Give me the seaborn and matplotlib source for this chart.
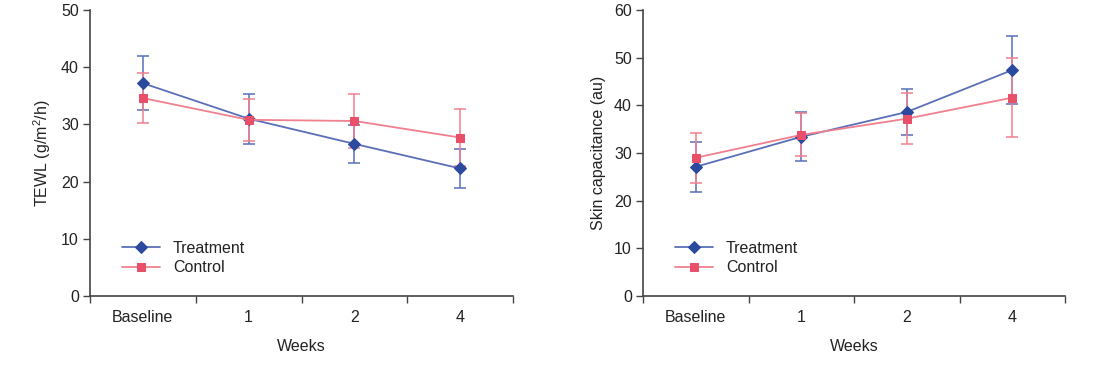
import numpy as np
import pandas as pd
import matplotlib
matplotlib.use("Agg")
import matplotlib.pyplot as plt
import seaborn as sns

# ---- data ----
weeks = ["Baseline", "1", "2", "4"]
groups = ["Treatment", "Control"]

tewl_treat = [37.2, 31.0, 26.6, 22.3]
tewl_treat_sd = [4.7, 4.4, 3.3, 3.4]
tewl_ctrl = [34.6, 30.8, 30.6, 27.7]
tewl_ctrl_sd = [4.3, 3.7, 4.7, 5.0]

cap_treat = [27.1, 33.4, 38.6, 47.4]
cap_treat_sd = [5.2, 5.1, 4.9, 7.1]
cap_ctrl = [29.0, 33.8, 37.2, 41.6]
cap_ctrl_sd = [5.2, 4.5, 5.3, 8.3]

marker_colors = {"Treatment": "#2b4a9e", "Control": "#e8506a"}
line_colors = {"Treatment": "#5a6fb8", "Control": "#f0808f"}
markers = {"Treatment": "D", "Control": "s"}
msize = {"Treatment": 6.5, "Control": 6}


def draw_panel(ax, treat, treat_sd, ctrl, ctrl_sd, ymax, ylabel):
    df = pd.DataFrame({
        "Week": weeks * 2,
        "Value": treat + ctrl,
        "Group": ["Treatment"] * len(weeks) + ["Control"] * len(weeks),
    })
    sds = {"Treatment": treat_sd, "Control": ctrl_sd}
    # error bars first so the markers sit on top
    for g in groups:
        sub = df[df["Group"] == g]
        ax.errorbar(np.arange(len(weeks)), sub["Value"], yerr=sds[g],
                    fmt="none", ecolor=line_colors[g], elinewidth=1.3,
                    capsize=4.5, capthick=1.3, alpha=0.85, zorder=2)
    for g in groups:
        sub = df[df["Group"] == g]
        sns.lineplot(data=sub, x="Week", y="Value", ax=ax, sort=False,
                     color=line_colors[g], linewidth=1.3, zorder=3,
                     label=g, marker=markers[g], markersize=msize[g],
                     markerfacecolor=marker_colors[g],
                     markeredgecolor=marker_colors[g])

    ax.set_xlim(-0.5, len(weeks) - 0.5)
    ax.set_ylim(0, ymax)
    ax.set_yticks(np.arange(0, ymax + 1, 10))
    ax.set_xticks(np.arange(len(weeks)))
    ax.set_xticklabels(weeks)
    ax.set_xticks(np.arange(-0.5, len(weeks)), minor=True)
    ax.tick_params(axis="x", which="major", bottom=False, length=0, pad=10,
                   labelsize=11.5, labelcolor="#222222")
    ax.tick_params(axis="x", which="minor", bottom=True, length=5, width=1,
                   color="#444444", direction="out")
    ax.tick_params(axis="y", left=True, length=5, width=1, color="#444444",
                   direction="out", labelsize=11.5, pad=3, labelcolor="#222222")
    for s in ["top", "right"]:
        ax.spines[s].set_visible(False)
    for s in ["left", "bottom"]:
        ax.spines[s].set_color("#444444")
        ax.spines[s].set_linewidth(1.2)
    ax.set_xlabel("Weeks", fontsize=11.5, labelpad=10, color="#222222")
    ax.set_ylabel(ylabel, fontsize=11.5, labelpad=6, color="#222222")
    ax.grid(False)
    leg = ax.legend(loc="lower left", bbox_to_anchor=(0.06, 0.05), frameon=False,
                    fontsize=11.5, handlelength=2.4, handletextpad=0.8,
                    labelspacing=0.3, borderaxespad=0)
    for t in leg.get_texts():
        t.set_color("#222222")


sns.set_theme(style="white")
plt.rcParams["font.family"] = ["Liberation Sans", "DejaVu Sans"]
plt.rcParams["mathtext.fontset"] = "custom"
plt.rcParams["mathtext.rm"] = "Liberation Sans"

fig = plt.figure(figsize=(11.08, 3.67), dpi=100)
ax1 = fig.add_axes([90 / 1108, 1 - 296 / 367, 423 / 1108, 286 / 367])
ax2 = fig.add_axes([643 / 1108, 1 - 296 / 367, 422 / 1108, 286 / 367])

draw_panel(ax1, tewl_treat, tewl_treat_sd, tewl_ctrl, tewl_ctrl_sd, 50,
           "TEWL (g/m$^2$/h)")
draw_panel(ax2, cap_treat, cap_treat_sd, cap_ctrl, cap_ctrl_sd, 60,
           "Skin capacitance (au)")

fig.savefig("out.png", dpi=100)
